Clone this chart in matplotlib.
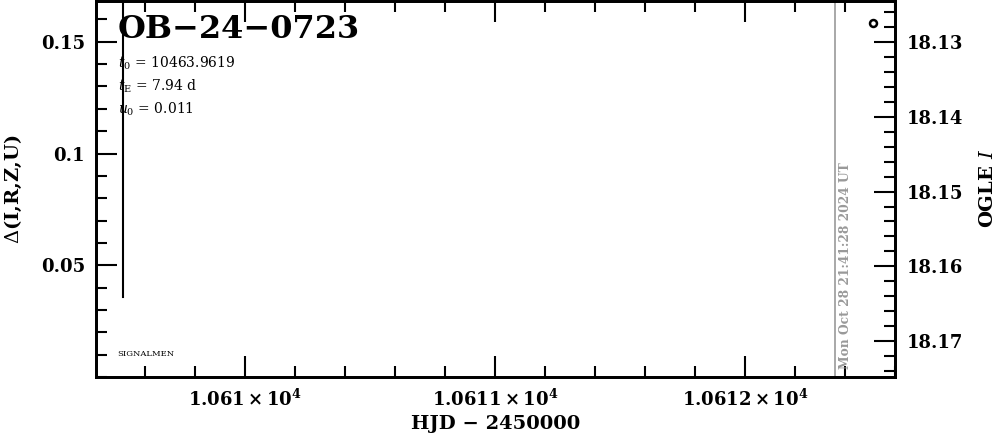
import matplotlib
matplotlib.use("Agg")
import matplotlib.pyplot as plt
from matplotlib.ticker import MultipleLocator, FixedLocator

# data
hjd_point = [10612.51]
mag_point = [18.1275]
line_x = [10609.512, 10609.512]
line_y = [0.0357, 0.1683]
now_x = 10612.36
xlim = (10609.404, 10612.6)
ylim_left = (0.0, 0.1683)
ylim_right = (18.1748, 18.1245)
xticks = [10610.0, 10611.0, 10612.0]
xticklabels = [r'$\mathbf{1.061\times10^{4}}$', r'$\mathbf{1.0611\times10^{4}}$',
               r'$\mathbf{1.0612\times10^{4}}$']
event = "OB\u221224\u22120723"
params = [r"$t_0$ = 10463.9619", r"$t_{\rm E}$ = 7.94 d", r"$u_0$ = 0.011"]
stamp = "Mon Oct 28 21:41:28 2024 UT"

plt.rcParams['font.family'] = 'DejaVu Serif'
plt.rcParams['mathtext.fontset'] = 'dejavuserif'

fig = plt.figure(figsize=(9.99, 4.34), dpi=100)
ax = fig.add_axes([0.0961, 0.1313, 0.8, 0.8667])

ax.plot(line_x, line_y, color='black', lw=1.5)
ax.axvline(now_x, color='#999999', lw=1.2)
ax.set_xlim(*xlim)
ax.set_ylim(*ylim_left)

ax.xaxis.set_major_locator(FixedLocator(xticks))
ax.set_xticklabels(xticklabels)
ax.xaxis.set_minor_locator(MultipleLocator(0.2))
ax.yaxis.set_minor_locator(MultipleLocator(0.01))
ax.set_yticks([0.05, 0.1, 0.15])
ax.set_yticklabels(['0.05', '0.1', '0.15'])
ax.tick_params(which='both', direction='in', top=True, width=1.5)
ax.tick_params(which='major', length=15, labelsize=13, pad=8)
ax.tick_params(which='minor', length=8)
ax.tick_params(axis='y', right=False)
for lab in ax.get_yticklabels():
    lab.set_fontweight('bold')
for s in ax.spines.values():
    s.set_linewidth(2)

ax.set_xlabel("HJD \u2212 2450000", fontsize=14, fontweight='bold', labelpad=4)
ax.set_ylabel(r"$\Delta$(I,R,Z,U)", fontsize=14, fontweight='bold', labelpad=12)

ax2 = ax.twinx()
ax2.plot(hjd_point, mag_point, 'o', mfc='white', mec='black', mew=1.8, ms=5)
ax2.set_ylim(*ylim_right)
ax2.yaxis.set_major_locator(MultipleLocator(0.01))
ax2.yaxis.set_minor_locator(MultipleLocator(0.002))
ax2.yaxis.set_major_formatter(matplotlib.ticker.FormatStrFormatter('%.2f'))
ax2.tick_params(which='both', direction='in', width=1.5)
ax2.tick_params(which='major', length=15, labelsize=13, pad=8)
ax2.tick_params(which='minor', length=8)
for lab in ax2.get_yticklabels():
    lab.set_fontweight('bold')
ax2.set_ylabel(r"OGLE $\mathbf{\it{I}}$", fontsize=14, fontweight='bold',
               rotation=90, labelpad=12)
for s in ax2.spines.values():
    s.set_linewidth(2)

ax.text(0.027, 0.965, event, transform=ax.transAxes, fontsize=23,
        fontweight='bold', va='top', ha='left')
for i, p in enumerate(params):
    ax.text(0.027, 0.835 - i * 0.062, p, transform=ax.transAxes, fontsize=10,
            va='center', ha='left')
ax.text(0.027, 0.06, "SIGNALMEN", transform=ax.transAxes, fontsize=6,
        va='center', ha='left')
ax.text(now_x + 0.04, 0.02, stamp, rotation=90, color='#999999', fontsize=8.8,
        fontweight='bold', va='bottom', ha='center',
        transform=ax.get_xaxis_transform())

fig.savefig("out.png", dpi=100)
